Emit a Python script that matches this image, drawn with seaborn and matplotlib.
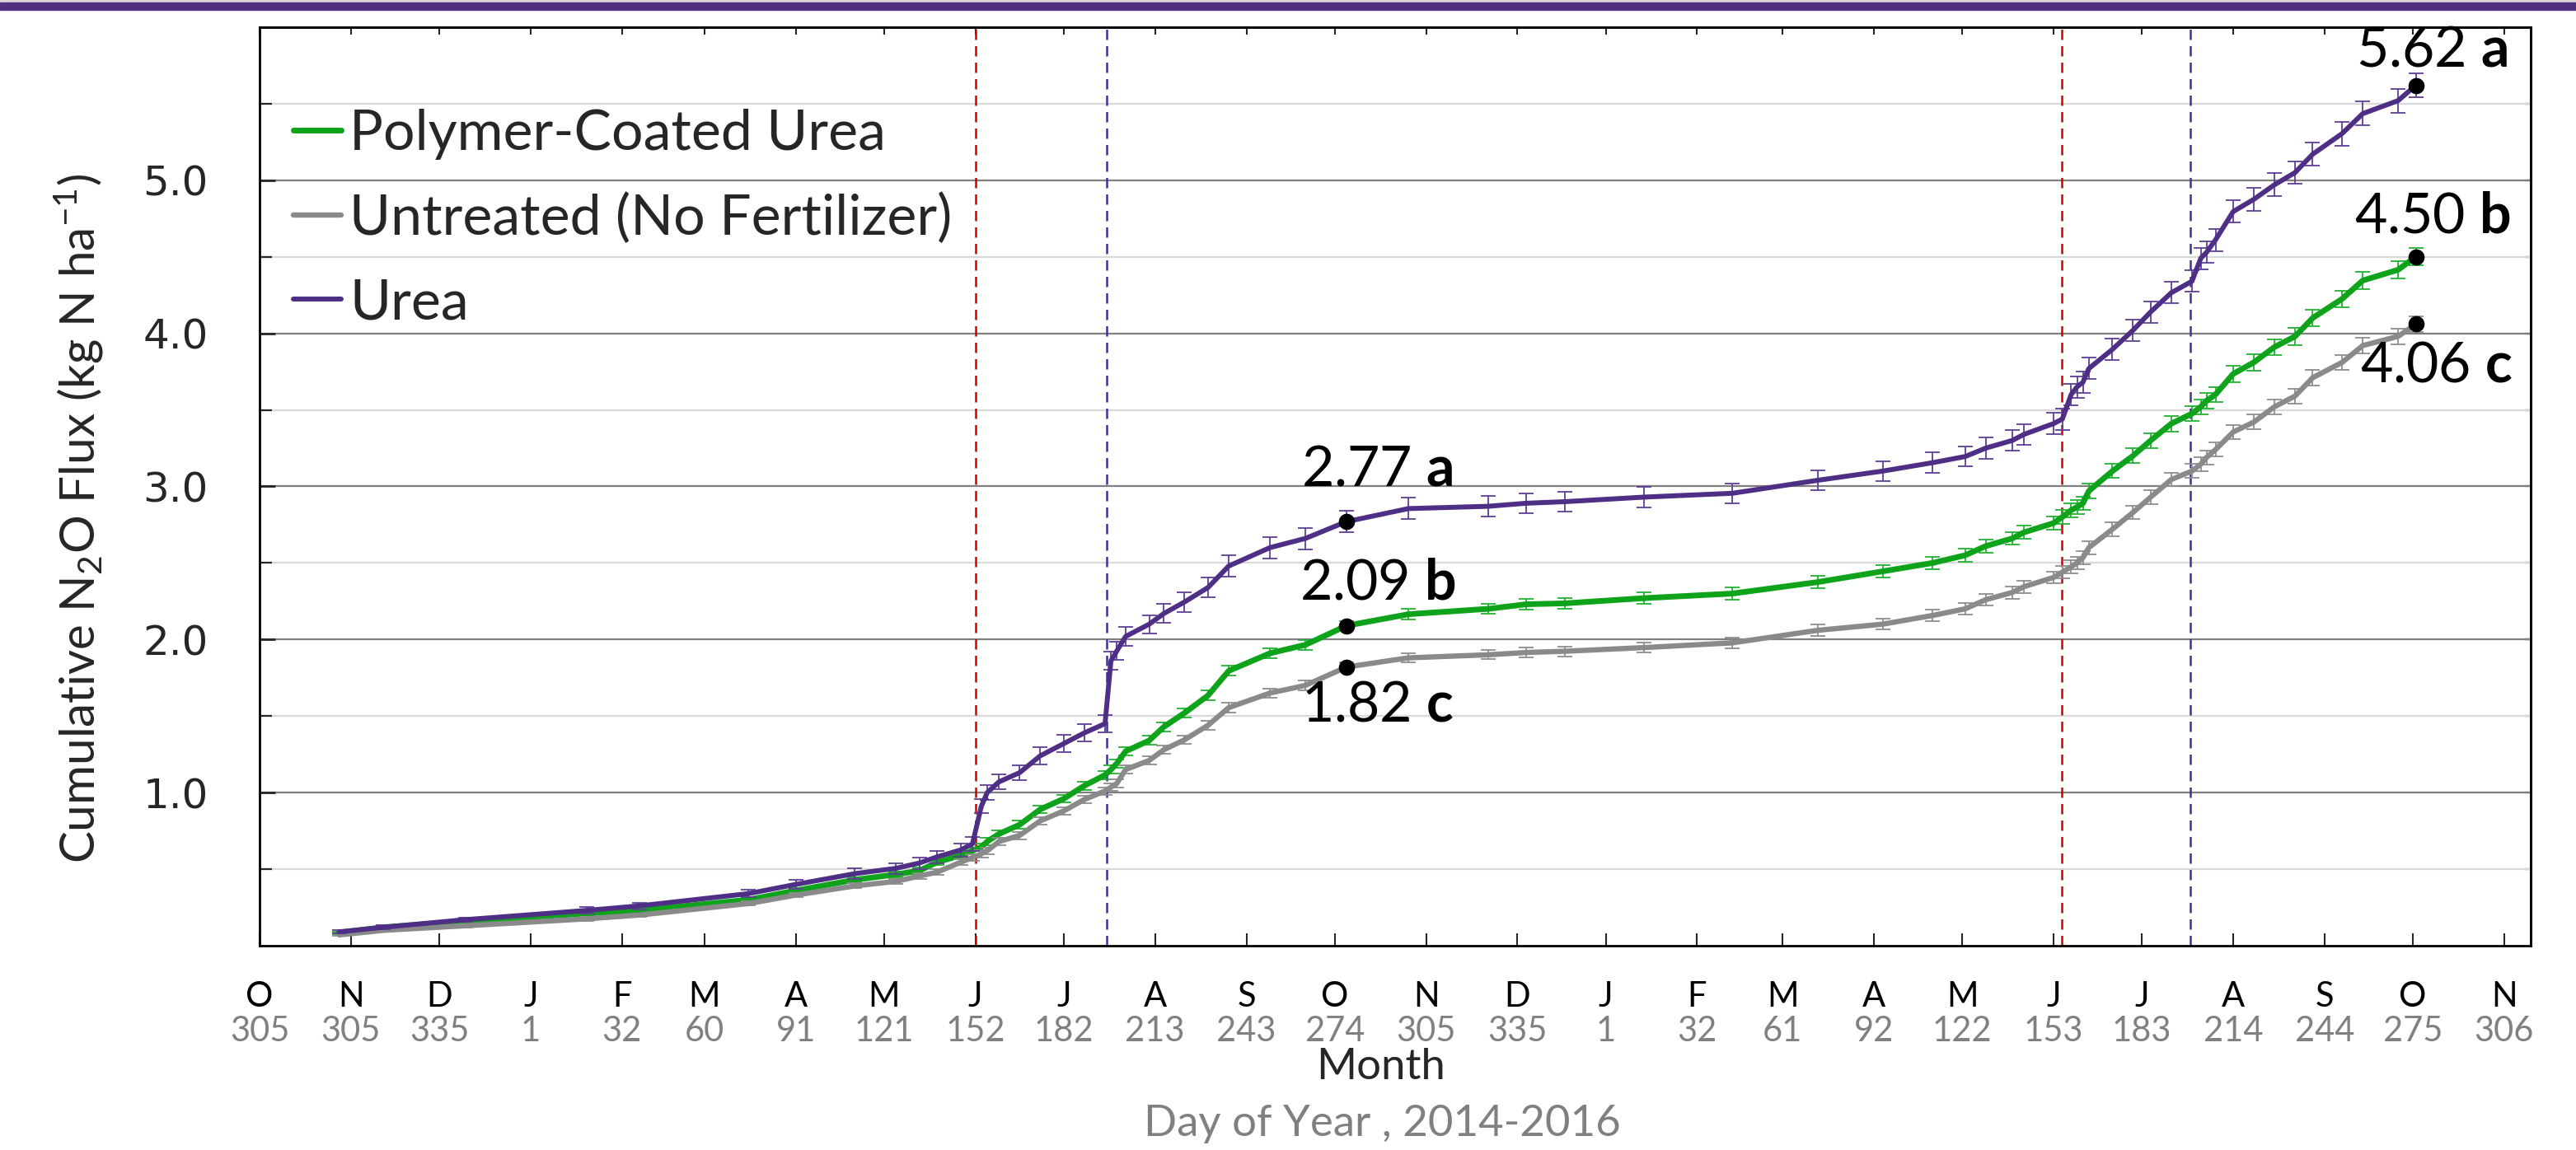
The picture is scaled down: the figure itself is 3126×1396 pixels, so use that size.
import numpy as np
import pandas as pd
import matplotlib
matplotlib.use("Agg")
import matplotlib.pyplot as plt
import matplotlib.transforms as mtransforms
from matplotlib.patches import Rectangle
import seaborn as sns

# ---- data (x = days after 1 Oct 2014) ----
day = [27, 42, 70, 111, 129, 166, 182, 202, 216, 224,
       230, 238, 242, 245, 247, 251, 258, 265, 273, 280,
       287, 289, 291, 294, 302, 307, 314, 322, 329, 343,
       355, 369, 390, 417, 430, 443, 470, 500, 529, 551,
       568, 579, 586, 595, 599, 609, 612, 615, 617, 619,
       621, 629, 636, 642, 649, 656, 659, 661, 664, 670,
       677, 684, 691, 697, 707, 714, 726, 732]

urea = [0.09, 0.12, 0.17, 0.23, 0.26, 0.34, 0.40, 0.47, 0.505, 0.54,
        0.58, 0.625, 0.665, 0.91, 1.00, 1.07, 1.13, 1.24, 1.32, 1.39,
        1.45, 1.86, 1.925, 2.02, 2.10, 2.17, 2.245, 2.34, 2.48, 2.60,
        2.66, 2.77, 2.855, 2.87, 2.89, 2.90, 2.93, 2.955, 3.04, 3.10,
        3.155, 3.195, 3.25, 3.30, 3.34, 3.41, 3.44, 3.60, 3.65, 3.68,
        3.77, 3.895, 4.02, 4.14, 4.265, 4.34, 4.49, 4.53, 4.61, 4.795,
        4.875, 4.97, 5.05, 5.17, 5.305, 5.435, 5.52, 5.62]

pcu = [0.085, 0.12, 0.16, 0.21, 0.23, 0.30, 0.36, 0.43, 0.465, 0.49,
       0.545, 0.59, 0.62, 0.645, 0.68, 0.73, 0.79, 0.89, 0.96, 1.045,
       1.115, 1.15, 1.19, 1.27, 1.34, 1.43, 1.52, 1.635, 1.795, 1.91,
       1.965, 2.09, 2.165, 2.20, 2.23, 2.236, 2.27, 2.30, 2.375, 2.445,
       2.50, 2.55, 2.61, 2.66, 2.70, 2.76, 2.80, 2.845, 2.865, 2.89,
       2.97, 3.10, 3.20, 3.30, 3.41, 3.475, 3.52, 3.56, 3.60, 3.735,
       3.81, 3.91, 3.98, 4.10, 4.225, 4.345, 4.415, 4.50]

untreated = [0.07, 0.10, 0.13, 0.175, 0.20, 0.275, 0.33, 0.39, 0.42, 0.455,
             0.48, 0.545, 0.575, 0.60, 0.62, 0.68, 0.72, 0.815, 0.88, 0.955,
             1.01, 1.035, 1.06, 1.15, 1.21, 1.28, 1.345, 1.44, 1.555, 1.65,
             1.70, 1.82, 1.88, 1.90, 1.915, 1.923, 1.947, 1.978, 2.06, 2.10,
             2.157, 2.20, 2.26, 2.307, 2.345, 2.405, 2.44, 2.475, 2.50, 2.535,
             2.60, 2.72, 2.83, 2.93, 3.045, 3.10, 3.145, 3.19, 3.24, 3.355,
             3.42, 3.52, 3.59, 3.71, 3.81, 3.92, 3.98, 4.06]

urea_se = [0.01, 0.012, 0.015, 0.02, 0.022, 0.025, 0.03, 0.035, 0.035, 0.038,
           0.04, 0.042, 0.045, 0.045, 0.048, 0.05, 0.05, 0.055, 0.055, 0.055,
           0.058, 0.06, 0.06, 0.06, 0.06, 0.062, 0.065, 0.065, 0.068, 0.07,
           0.07, 0.07, 0.07, 0.068, 0.066, 0.066, 0.066, 0.066, 0.066, 0.066,
           0.066, 0.066, 0.068, 0.068, 0.068, 0.07, 0.07, 0.07, 0.07, 0.07,
           0.07, 0.07, 0.07, 0.07, 0.07, 0.07, 0.07, 0.07, 0.072, 0.072,
           0.075, 0.075, 0.075, 0.075, 0.078, 0.078, 0.078, 0.08]

pcu_se = [0.008, 0.01, 0.01, 0.012, 0.012, 0.015, 0.015, 0.018, 0.018, 0.02,
          0.02, 0.02, 0.022, 0.022, 0.022, 0.024, 0.025, 0.025, 0.025, 0.026,
          0.026, 0.028, 0.028, 0.028, 0.03, 0.03, 0.03, 0.032, 0.032, 0.032,
          0.032, 0.032, 0.033, 0.033, 0.035, 0.035, 0.038, 0.04, 0.04, 0.04,
          0.04, 0.042, 0.042, 0.042, 0.044, 0.044, 0.045, 0.045, 0.045, 0.045,
          0.046, 0.046, 0.048, 0.048, 0.05, 0.05, 0.05, 0.05, 0.05, 0.052,
          0.052, 0.052, 0.055, 0.055, 0.055, 0.055, 0.055, 0.055]

untreated_se = [0.008, 0.01, 0.01, 0.012, 0.012, 0.014, 0.015, 0.016, 0.018, 0.018,
                0.02, 0.02, 0.02, 0.022, 0.022, 0.022, 0.024, 0.024, 0.025, 0.025,
                0.025, 0.026, 0.026, 0.026, 0.028, 0.028, 0.028, 0.03, 0.03, 0.03,
                0.03, 0.03, 0.03, 0.03, 0.032, 0.032, 0.034, 0.035, 0.036, 0.036,
                0.038, 0.038, 0.038, 0.04, 0.04, 0.04, 0.04, 0.042, 0.042, 0.042,
                0.042, 0.044, 0.044, 0.045, 0.045, 0.045, 0.045, 0.046, 0.046, 0.046,
                0.048, 0.048, 0.048, 0.05, 0.05, 0.05, 0.05, 0.05]

treatments = ["Polymer-Coated Urea", "Untreated (No Fertilizer)", "Urea"]
letters_2015 = ["b", "c", "a"]
letters_2016 = ["b", "c", "a"]
mark_idx = [31, 67]  # sampling dates with the reported totals

month_days = [0, 31, 61, 92, 123, 151, 182, 212, 243, 273, 304, 335, 365,
              396, 427, 457, 488, 517, 548, 578, 609, 639, 670, 701, 731, 762]
month_letters = ["O", "N", "D", "J", "F", "M", "A", "M", "J", "J", "A", "S", "O",
                 "N", "D", "J", "F", "M", "A", "M", "J", "J", "A", "S", "O", "N"]
doy_labels = ["305", "305", "335", "1", "32", "60", "91", "121", "152", "182", "213", "243", "274",
              "305", "335", "1", "32", "61", "92", "122", "153", "183", "214", "244", "275", "306"]
ytick_vals = [1, 2, 3, 4, 5]
ytick_labels = ["1.0", "2.0", "3.0", "4.0", "5.0"]

red_days = [243, 611.7]
blue_days = [287.5, 655.5]

# long table for seaborn
df = pd.DataFrame({
    "day": day * 3,
    "flux": pcu + untreated + urea,
    "se": pcu_se + untreated_se + urea_se,
    "treatment": np.repeat(treatments, len(day)),
})

# ---- style ----
sns.set_theme(style="white")
plt.rcParams["font.family"] = ["Lato", "DejaVu Sans"]
plt.rcParams["mathtext.fontset"] = "custom"
plt.rcParams["mathtext.rm"] = "Lato"
plt.rcParams["mathtext.bf"] = "Lato:bold"

colors = {"Polymer-Coated Urea": "#0FA31C",
          "Untreated (No Fertilizer)": "#8A8A8A",
          "Urea": "#4E2F85"}
err_colors = {"Polymer-Coated Urea": "#22B232",
              "Untreated (No Fertilizer)": "#8E8E8E",
              "Urea": "#5E3F96"}
widths = {"Polymer-Coated Urea": 5.0,
          "Untreated (No Fertilizer)": 4.6,
          "Urea": 4.3}

fig = plt.figure(figsize=(31.26, 13.96), dpi=100)
ax = fig.add_axes([0.1008, 0.1777, 0.8816, 0.7987])

# top banner
fig.patches.append(Rectangle((0, 1 - 3 / 1396), 1, 3 / 1396, transform=fig.transFigure,
                             color="#D9D9D9", zorder=0))
fig.patches.append(Rectangle((0, 1 - 12 / 1396), 1, 9 / 1396, transform=fig.transFigure,
                             color="#51307F", zorder=0))

# event lines
for d in red_days:
    ax.axvline(d, color="#D40000", lw=1.8, ls=(0, (5, 3)), zorder=2)
for d in blue_days:
    ax.axvline(d, color="#3B3595", lw=1.8, ls=(0, (5, 3)), zorder=2)

# series
for i, name in enumerate(treatments):
    sub = df[df["treatment"] == name]
    ax.errorbar(sub["day"], sub["flux"], yerr=sub["se"], fmt="none",
                ecolor=err_colors[name], elinewidth=1.3, capsize=6.5, capthick=1.3,
                zorder=3 + i)
    sns.lineplot(data=sub, x="day", y="flux", color=colors[name], lw=widths[name],
                 label=name, ax=ax, zorder=3 + i, legend=False)

# totals with letters
series_vals = [pcu, untreated, urea]
offsets_2015 = [(27, 37), (27, -34), (27, 45)]
offsets_2016 = [(15, 35), (18, -37), (14, 30)]
for vals, l15, l16, o15, o16 in zip(series_vals, letters_2015, letters_2016,
                                    offsets_2015, offsets_2016):
    for idx, let, off in zip(mark_idx, [l15, l16], [o15, o16]):
        ax.scatter([day[idx]], [vals[idx]], s=200, color="black", zorder=10, linewidths=0)
        ax.annotate(f"{vals[idx]:.2f} $\\mathbf{{{let}}}$", xy=(day[idx], vals[idx]),
                    xytext=off, textcoords="offset points", ha="center", va="center",
                    fontsize=49, color="black", zorder=11)

# axes
ax.set_xlim(0, 771)
ax.set_ylim(0, 6)
ax.set_xlabel("")
ax.set_ylabel("")
ax.set_yticks(ytick_vals)
ax.set_yticklabels(ytick_labels)
ax.set_yticks(np.arange(0.5, 6, 1.0), minor=True)
ax.set_axisbelow(True)
ax.yaxis.grid(True, which="major", color="#7F7F7F", lw=1.6)
ax.yaxis.grid(True, which="minor", color="#D9D9D9", lw=1.6)
ax.xaxis.grid(False)
ax.tick_params(axis="y", which="major", direction="in", length=14, width=2,
               pad=45, labelsize=36, left=True, right=False)
ax.tick_params(axis="y", which="minor", direction="in", length=10.5, width=1.6,
               left=True, right=False)
for lab in ax.get_yticklabels():
    lab.set_fontfamily("DejaVu Sans")

ax.set_xticks(month_days)
ax.set_xticklabels([])
ax.tick_params(axis="x", which="major", direction="in", length=11, width=1.5,
               bottom=True, top=False)

top = ax.secondary_xaxis("top")
top.set_xticks(month_days)
top.tick_params(direction="in", length=6.5, width=1.5, labeltop=False)
right = ax.secondary_yaxis("right")
right.set_yticks(np.arange(0.5, 6, 0.5))
right.tick_params(direction="in", length=5, width=1.6, labelright=False)

for sp in ax.spines.values():
    sp.set_visible(True)
    sp.set_color("black")
    sp.set_linewidth(2)
for sec in (top, right):
    for sp in sec.spines.values():
        sp.set_color("black")
        sp.set_linewidth(2)

# two-row x labels
blend = mtransforms.blended_transform_factory(ax.transData, ax.transAxes)
for d, m, doy in zip(month_days, month_letters, doy_labels):
    ax.text(d, -0.0556, m, transform=blend, ha="center", va="center",
            fontsize=30, color="black")
    ax.text(d, -0.0933, doy, transform=blend, ha="center", va="center",
            fontsize=30, color="#808080")

fig.text(1676 / 3126, 1 - 1295 / 1396, "Month", ha="center", va="center", fontsize=38)
fig.text(1677 / 3126, 1 - 1364 / 1396, "Day of Year , 2014-2016", ha="center",
         va="center", fontsize=38, color="#808080")
fig.text(96 / 3126, 1 - 630 / 1396,
         "Cumulative N$\\mathregular{_2}$O Flux (kg N ha$\\mathregular{^{-1}}$)",
         rotation=90, ha="center", va="center", fontsize=42)

ax.legend(loc="upper left", bbox_to_anchor=(0.0149, 0.911), frameon=False,
          fontsize=49, handlelength=0.85, handletextpad=0.15, labelspacing=0.59,
          borderpad=0, borderaxespad=0)

fig.savefig("out.png", dpi=100)
